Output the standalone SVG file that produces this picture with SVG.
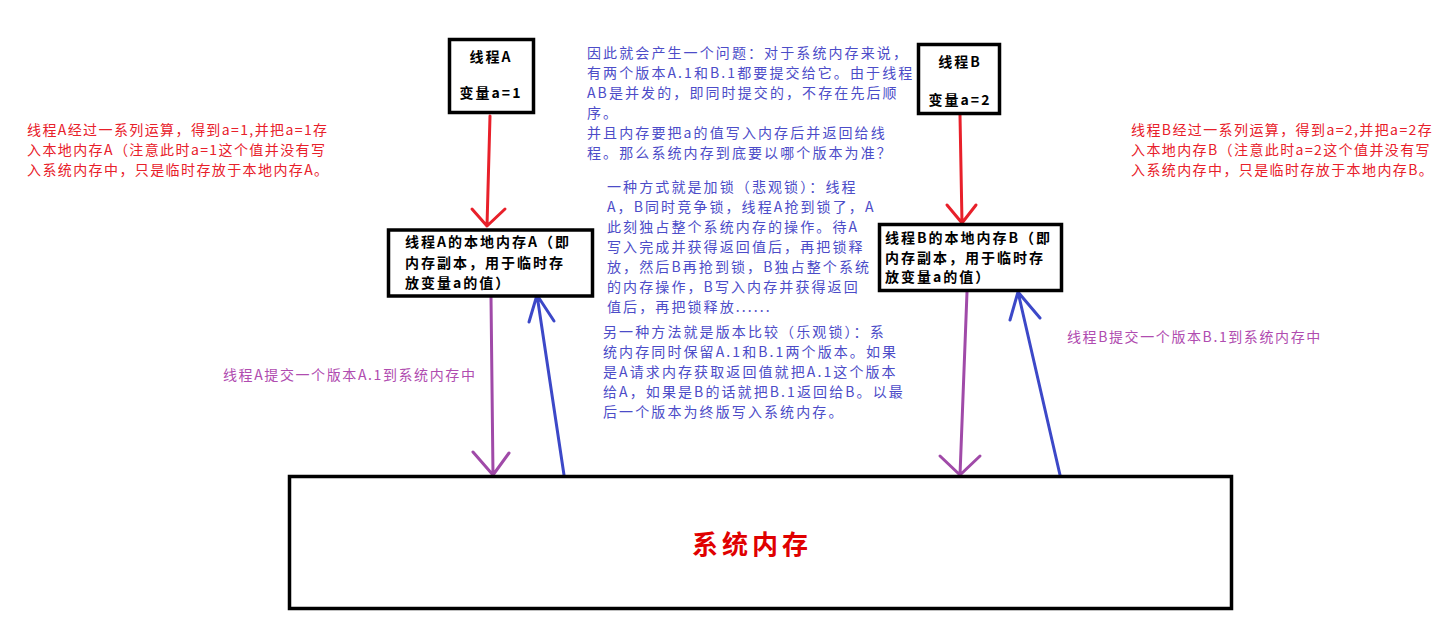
<svg xmlns="http://www.w3.org/2000/svg" width="1455" height="625" viewBox="0 0 1455 625">
<style>
text{font-family:"Noto Sans CJK SC","Liberation Sans",sans-serif;}
.box{fill:#fff;stroke:#000;stroke-width:3.5;}
.bt{font-size:14px;font-weight:bold;fill:#000;letter-spacing:2px;}
.red{font-size:14px;fill:#e8202a;letter-spacing:1.4px;}
.blue{font-size:14px;fill:#4c4cc8;letter-spacing:2.1px;}
.pur{font-size:14px;fill:#b04cb0;letter-spacing:1.6px;}
.ar{fill:none;stroke-width:3;stroke-linecap:round;stroke-linejoin:round;}
.r{stroke:#e8202a;}
.p{stroke:#a04aa8;}
.b{stroke:#3c48c8;}
</style>
<rect width="1455" height="625" fill="#fff"/>
<g id="connectors">
<path class="ar r" d="M490,116 L487,226 M472,209 L487,226 L505,209"/>
<path class="ar r" d="M960,115 L962,223 M947,205 L962,223 L976,205"/>
<path class="ar p" d="M491,297 L493,475 M473,452 L493,475 L509,453"/>
<path class="ar b" d="M564,475 L537,295 M529,322 L537,295 L554,321"/>
<path class="ar p" d="M967,292 L960,475 M940,456 L960,475 L980,456"/>
<path class="ar b" d="M1060,475 L1018,292 M1010,320 L1018,292 L1040,318"/>
</g>
<g id="threadA">
<rect class="box" x="449.5" y="39.5" width="84" height="73"/>
<text class="bt" x="491" y="62" text-anchor="middle">线程A</text>
<text class="bt" x="491" y="98" text-anchor="middle">变量a=1</text>
</g>
<g id="threadB">
<rect class="box" x="918.5" y="44.5" width="81" height="69"/>
<text class="bt" x="960" y="67" text-anchor="middle">线程B</text>
<text class="bt" x="960" y="105" text-anchor="middle">变量a=2</text>
</g>
<g id="localA">
<rect class="box" x="388.5" y="230" width="204" height="66"/>
<text class="bt" x="405" y="247">线程A的本地内存A（即</text>
<text class="bt" x="405" y="268">内存副本，用于临时存</text>
<text class="bt" x="405" y="288">放变量a的值）</text>
</g>
<g id="localB">
<rect class="box" x="879.5" y="224.5" width="182" height="66"/>
<text class="bt" x="885" y="243">线程B的本地内存B（即</text>
<text class="bt" x="885" y="263">内存副本，用于临时存</text>
<text class="bt" x="885" y="282">放变量a的值）</text>
</g>
<g id="sysmem">
<rect class="box" x="289.5" y="476.5" width="942" height="132" stroke-width="3"/>
<text x="752" y="554" text-anchor="middle" font-size="26" font-weight="bold" fill="#e00000" letter-spacing="4">系统内存</text>
</g>
<g id="noteA">
<text class="red" x="27" y="135">线程A经过一系列运算，得到a=1,并把a=1存</text>
<text class="red" x="27" y="155">入本地内存A（注意此时a=1这个值并没有写</text>
<text class="red" x="27" y="175">入系统内存中，只是临时存放于本地内存A。</text>
</g>
<g id="noteB">
<text class="red" x="1131" y="135">线程B经过一系列运算，得到a=2,并把a=2存</text>
<text class="red" x="1131" y="155">入本地内存B（注意此时a=2这个值并没有写</text>
<text class="red" x="1131" y="175">入系统内存中，只是临时存放于本地内存B。</text>
</g>
<g id="noteTop">
<text class="blue" x="587" y="58">因此就会产生一个问题：对于系统内存来说，</text>
<text class="blue" x="587" y="78">有两个版本A.1和B.1都要提交给它。由于线程</text>
<text class="blue" x="587" y="98">AB是并发的，即同时提交的，不存在先后顺</text>
<text class="blue" x="587" y="118">序。</text>
<text class="blue" x="587" y="138">并且内存要把a的值写入内存后并返回给线</text>
<text class="blue" x="587" y="158">程。那么系统内存到底要以哪个版本为准？</text>
</g>
<g id="notePessimistic">
<text class="blue" x="607" y="192">一种方式就是加锁（悲观锁）：线程</text>
<text class="blue" x="607" y="212">A，B同时竞争锁，线程A抢到锁了，A</text>
<text class="blue" x="607" y="232">此刻独占整个系统内存的操作。待A</text>
<text class="blue" x="607" y="252">写入完成并获得返回值后，再把锁释</text>
<text class="blue" x="607" y="272">放，然后B再抢到锁，B独占整个系统</text>
<text class="blue" x="607" y="292">的内存操作，B写入内存并获得返回</text>
<text class="blue" x="607" y="312">值后，再把锁释放......</text>
</g>
<g id="noteOptimistic">
<text class="blue" x="603" y="337">另一种方法就是版本比较（乐观锁）：系</text>
<text class="blue" x="603" y="357">统内存同时保留A.1和B.1两个版本。如果</text>
<text class="blue" x="603" y="377">是A请求内存获取返回值就把A.1这个版本</text>
<text class="blue" x="603" y="397">给A，如果是B的话就把B.1返回给B。以最</text>
<text class="blue" x="603" y="417">后一个版本为终版写入系统内存。</text>
</g>
<g id="labelA">
<text class="pur" x="223" y="380">线程A提交一个版本A.1到系统内存中</text>
</g>
<g id="labelB">
<text class="pur" x="1067" y="342">线程B提交一个版本B.1到系统内存中</text>
</g>
</svg>
